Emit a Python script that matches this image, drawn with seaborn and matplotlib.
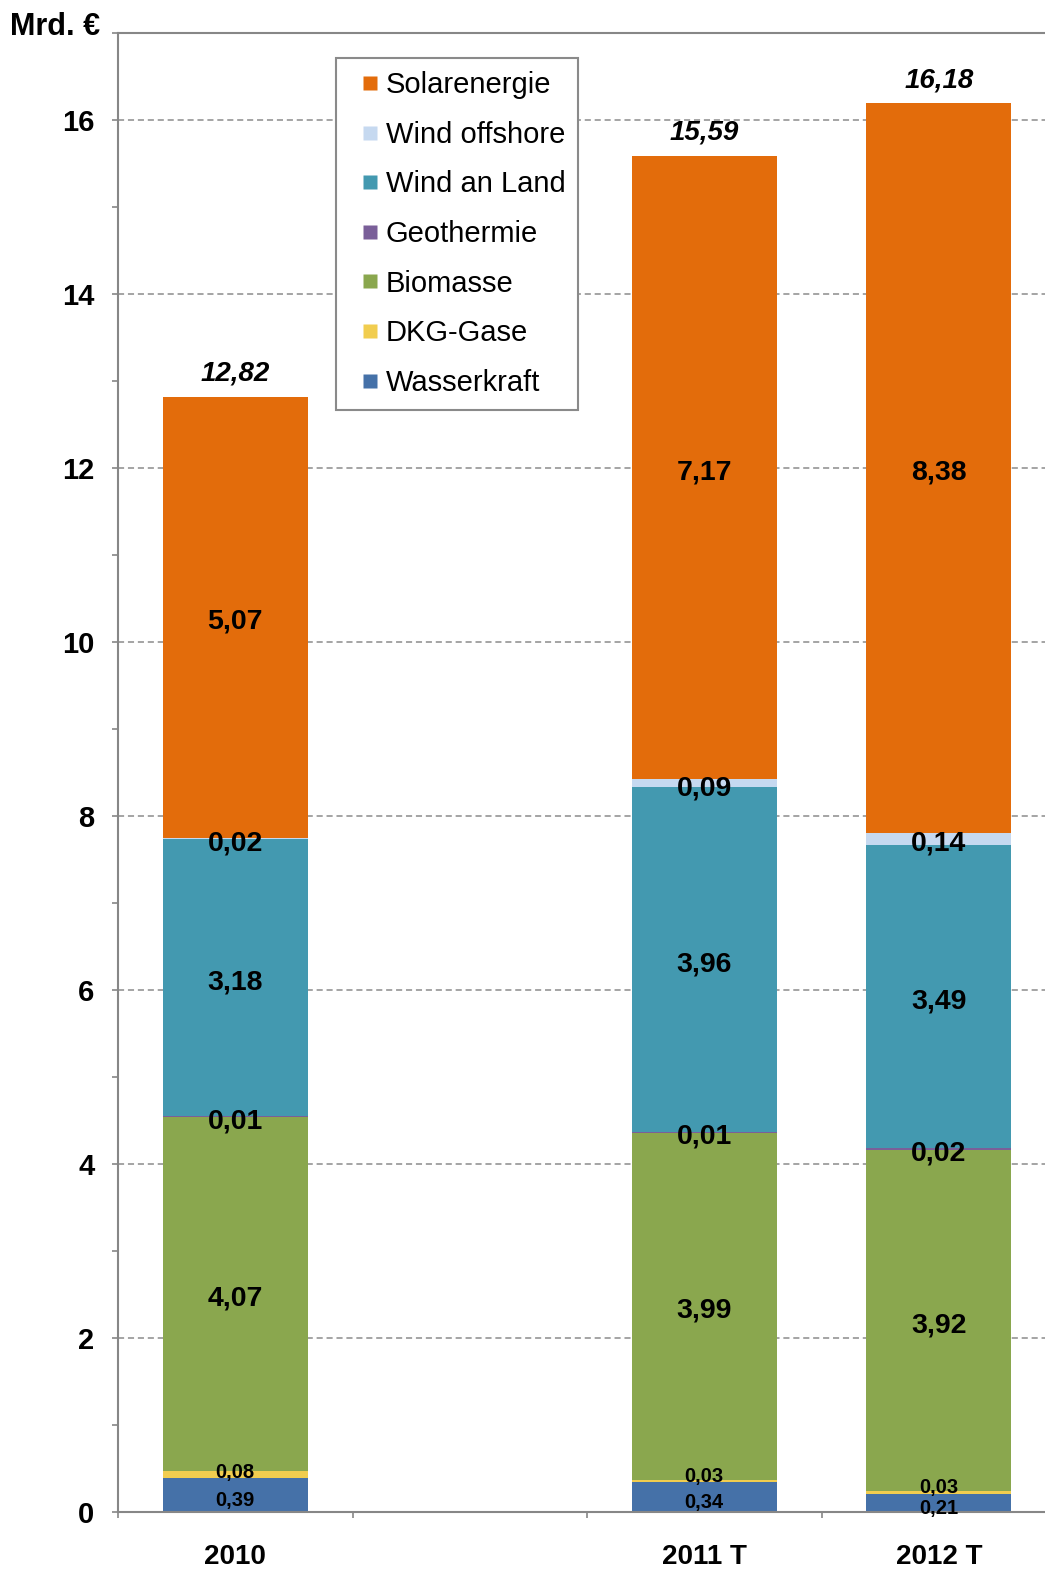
import numpy as np
import pandas as pd
import matplotlib
matplotlib.use("Agg")
import matplotlib.pyplot as plt
import seaborn as sns
from matplotlib.lines import Line2D
from matplotlib.ticker import MultipleLocator, FixedLocator

# ---------------- data ----------------
categories = ["2010", "", "2011 T", "2012 T"]
years = ["2010", "2011 T", "2012 T"]
series = ["Wasserkraft", "DKG-Gase", "Biomasse", "Geothermie",
          "Wind an Land", "Wind offshore", "Solarenergie"]
wasserkraft = [0.39, 0.34, 0.21]
dkg_gase = [0.08, 0.03, 0.03]
biomasse = [4.07, 3.99, 3.92]
geothermie = [0.01, 0.01, 0.02]
wind_an_land = [3.18, 3.96, 3.49]
wind_offshore = [0.02, 0.09, 0.14]
solarenergie = [5.07, 7.17, 8.38]
totals = [12.82, 15.59, 16.18]
y_ticks = [0, 2, 4, 6, 8, 10, 12, 14, 16]

colors = {
    "Wasserkraft": "#4571A8",
    "DKG-Gase": "#F1CD4F",
    "Biomasse": "#8AA74E",
    "Geothermie": "#7A5F99",
    "Wind an Land": "#4399B0",
    "Wind offshore": "#C6D9F0",
    "Solarenergie": "#E36C0B",
}

df = pd.DataFrame({
    "Jahr": years,
    "Wasserkraft": wasserkraft,
    "DKG-Gase": dkg_gase,
    "Biomasse": biomasse,
    "Geothermie": geothermie,
    "Wind an Land": wind_an_land,
    "Wind offshore": wind_offshore,
    "Solarenergie": solarenergie,
})
cum = df[series].cumsum(axis=1)
cum["Jahr"] = years

# ---------------- style ----------------
sns.set_theme(style="white")
plt.rcParams["font.family"] = ["Liberation Sans", "DejaVu Sans"]
plt.rcParams["text.color"] = "black"
plt.rcParams["xtick.color"] = "black"
plt.rcParams["ytick.color"] = "black"

W, H = 1045, 1570
fig = plt.figure(figsize=(W / 100, H / 100), dpi=100)
ax = fig.add_axes([118 / W, 58 / H, 938 / W, 1479 / H])

# stacked bars: draw cumulative totals from the top series downwards
for s in reversed(series):
    sns.barplot(data=cum, x="Jahr", y=s, order=categories, color=colors[s],
                saturation=1, width=0.62, errorbar=None, linewidth=0, ax=ax)

ax.set_xlim(-0.5, 3.5)
ax.set_ylim(0, 17)
ax.set_xlabel("")
ax.set_ylabel("")
ax.set_axisbelow(True)

# grid
ax.yaxis.set_major_locator(FixedLocator(y_ticks))
ax.yaxis.set_minor_locator(MultipleLocator(1))
ax.yaxis.grid(True, which="major", linestyle=(0, (4, 2.5)), color="#8c8c8c", linewidth=1.1)
ax.xaxis.grid(False)

# y ticks
ax.set_yticks(y_ticks)
ax.set_yticklabels([str(t) for t in y_ticks], fontsize=21, fontweight="bold",
                   color="black")
ax.tick_params(axis="y", which="both", direction="out", length=4, width=1.2,
               color="#868686", labelcolor="black", pad=13, left=True)

# x ticks: labels at centers, tick marks at boundaries
ax.set_xticks(range(len(categories)))
ax.set_xticklabels(categories, fontsize=20, fontweight="bold", color="black")
ax.tick_params(axis="x", which="major", length=0, pad=23, labelcolor="black")
ax.xaxis.set_minor_locator(FixedLocator([-0.5, 0.5, 1.5, 2.5, 3.5]))
ax.tick_params(axis="x", which="minor", direction="out", length=4, width=1.2,
               color="#868686", bottom=True)

for sp in ax.spines.values():
    sp.set_visible(True)
    sp.set_color("#878787")
    sp.set_linewidth(1.5)

# segment value labels
def fmt(v):
    return f"{v:.2f}".replace(".", ",")

for i, yr in enumerate(years):
    xpos = categories.index(yr)
    bottom = 0.0
    for s in series:
        v = df.loc[i, s]
        top = bottom + v
        center = (bottom + top) / 2
        if s == "Wasserkraft":
            ax.text(xpos, center - 0.04, fmt(v), ha="center", va="center_baseline",
                    fontsize=14.5, fontweight="bold", color="black")
        elif s == "DKG-Gase":
            ax.text(xpos, bottom + 0.09, fmt(v), ha="center", va="center_baseline",
                    fontsize=14.5, fontweight="bold", color="black")
        else:
            ax.text(xpos, center - 0.02, fmt(v), ha="center", va="center_baseline",
                    fontsize=20.5, fontweight="bold", color="black")
        bottom = top
    ax.text(xpos, cum.loc[i, "Solarenergie"] + 0.3, fmt(totals[i]), ha="center",
            va="center_baseline", fontsize=20, fontweight="bold", fontstyle="italic",
            color="black")

# legend
handles = [Line2D([], [], linestyle="", marker="s", markersize=10.5,
                  markerfacecolor=colors[s], markeredgecolor="none")
           for s in reversed(series)]
leg = ax.legend(handles, list(reversed(series)), loc="upper left",
                bbox_to_anchor=(0.2324, 0.983), borderaxespad=0,
                fontsize=21, frameon=True, fancybox=False, framealpha=1,
                edgecolor="#8a8a8a", borderpad=0.45, handlelength=1.4,
                handletextpad=-0.15, labelspacing=0.74)
leg.get_frame().set_linewidth(1.5)
for t in leg.get_texts():
    t.set_color("black")

fig.text(10 / W, 1 - 27 / H, "Mrd. €", ha="left", va="center",
         fontsize=22, fontweight="bold", color="black")

fig.savefig("out.png", dpi=100)
